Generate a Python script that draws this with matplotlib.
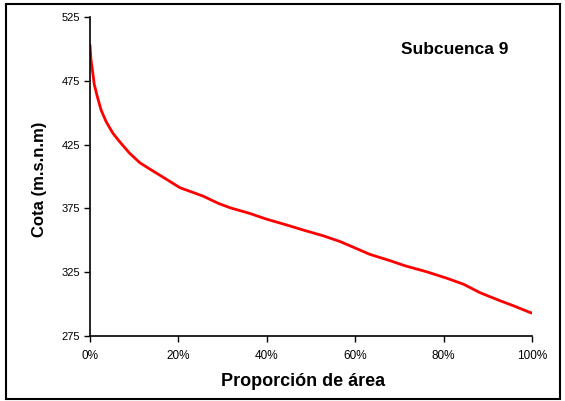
import matplotlib
matplotlib.use("Agg")
import matplotlib.pyplot as plt
from matplotlib.patches import Rectangle
from matplotlib.ticker import FuncFormatter

plt.rcParams['font.family'] = ['Liberation Sans', 'DejaVu Sans']

# Hypsometric curve data: area proportion (0-1) vs elevation (m.s.n.m)
area_prop = [0.000, 0.0023, 0.006, 0.0097, 0.0174, 0.0249, 0.0362, 0.0514, 0.0663,
             0.0889, 0.113, 0.143, 0.1735, 0.2036, 0.256, 0.290, 0.317, 0.362,
             0.400, 0.445, 0.483, 0.528, 0.566, 0.603, 0.633, 0.679, 0.713,
             0.762, 0.807, 0.845, 0.882, 0.928, 0.958, 0.995, 1.000]
elevation = [503, 491.4, 482, 472, 461.5, 452.3, 443.2, 434.1, 427.6,
             418.5, 410.7, 404.2, 397.7, 391.2, 384.6, 379, 375.5, 371,
             366.5, 362, 358, 353.5, 349, 343.5, 339, 334, 330,
             325.3, 320.3, 315.6, 309, 302.6, 298.7, 293.5, 293]
y_ticks = [275, 325, 375, 425, 475, 525]
x_ticks = [0, 0.2, 0.4, 0.6, 0.8, 1.0]

fig = plt.figure(figsize=(5.65, 4.01), dpi=100)
ax = fig.add_axes([90/565, 1-336/401, (532-90)/565, (336-17)/401])

ax.plot(area_prop, elevation, color='#ff0000', linewidth=2.0,
        solid_joinstyle='round', solid_capstyle='round')

ax.set_xlim(0, 1)
ax.set_ylim(275, 525)
ax.set_xticks(x_ticks)
ax.set_yticks(y_ticks)
ax.xaxis.set_major_formatter(FuncFormatter(lambda v, p: f"{v*100:.0f}%"))
for s in ['top', 'right']:
    ax.spines[s].set_visible(False)
for s in ['left', 'bottom']:
    ax.spines[s].set_linewidth(1.2)
ax.tick_params(axis='both', direction='out', length=4, width=1.0, labelsize=8, pad=3)
ax.tick_params(axis='x', labelsize=8.5, pad=6)

ax.set_ylabel('Cota (m.s.n.m)', fontsize=12, fontweight='bold')
ax.yaxis.set_label_coords(-0.098, 0.49)
ax.set_xlabel('Proporción de área', fontsize=13, fontweight='bold')
ax.xaxis.set_label_coords(0.482, -0.115)
ax.text(0.8247, 0.8975, 'Subcuenca 9', transform=ax.transAxes, fontsize=12.5,
        fontweight='bold', ha='center', va='center')

fig.patches.append(Rectangle((6/565, 1-399/401), (560-6)/565, (399-4)/401,
                             transform=fig.transFigure, fill=False,
                             edgecolor='black', linewidth=1.5))

fig.savefig('out.png', dpi=100)
